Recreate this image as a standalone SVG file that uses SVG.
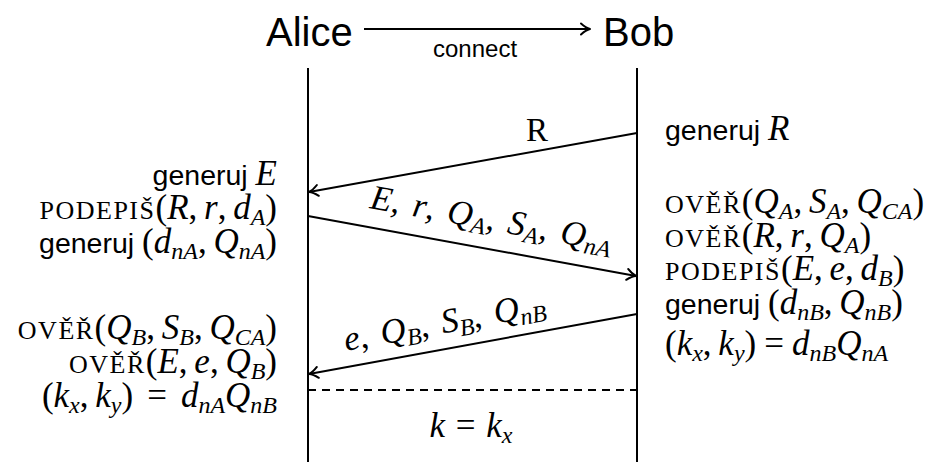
<svg xmlns="http://www.w3.org/2000/svg" width="933" height="462" viewBox="0 0 933 462">
<style>
text { font-family: "Liberation Serif", serif; font-size: 35px; fill: #000; word-spacing: -2px; }
.sf { font-family: "Liberation Sans", sans-serif; font-size: 28.5px; word-spacing: 0; }
.big { font-family: "Liberation Sans", sans-serif; font-size: 40px; word-spacing: 0; }
.con { font-family: "Liberation Sans", sans-serif; font-size: 24px; word-spacing: 0; }
.lbl { word-spacing: 4px; }
.i { font-style: italic; }
.s { font-style: italic; font-size: 24px; }
.sc { font-size: 26px; letter-spacing: 1.5px; }
.life { stroke: #000; stroke-width: 2; fill: none; }
.msg { stroke: #000; stroke-width: 2; fill: none; marker-end: url(#ah); }
.dash { stroke: #000; stroke-width: 2; fill: none; stroke-dasharray: 8 6; }
</style>
<defs>
<marker id="ah" viewBox="-11 -7 13 14" refX="0" refY="0" markerWidth="13" markerHeight="14" markerUnits="userSpaceOnUse" orient="auto">
<path d="M-9,-5.5 Q-4,-1 0,0 Q-4,1 -9,5.5" fill="none" stroke="#000" stroke-width="2" stroke-linecap="round" stroke-linejoin="round"/>
</marker>
</defs>
<rect width="933" height="462" fill="#fff"/>
<g id="alice">
<text class="big" x="266" y="46">Alice</text>
<line class="life" x1="308" y1="68" x2="308" y2="462"/>
</g>
<g id="bob">
<text class="big" x="603" y="46">Bob</text>
<line class="life" x1="637" y1="68" x2="637" y2="462"/>
</g>
<g id="alice-steps" text-anchor="end">
<text x="277" y="185"><tspan class="sf">generuj </tspan><tspan class="i">E</tspan></text>
<text x="277" y="219"><tspan class="sc">PODEPIŠ</tspan>(<tspan class="i">R</tspan>, <tspan class="i">r</tspan>, <tspan class="i">d</tspan><tspan class="s" dy="6">A</tspan><tspan dy="-6">)</tspan></text>
<text x="277" y="253"><tspan class="sf">generuj </tspan>(<tspan class="i">d</tspan><tspan class="s" dy="6">nA</tspan><tspan dy="-6">, </tspan><tspan class="i">Q</tspan><tspan class="s" dy="6">nA</tspan><tspan dy="-6">)</tspan></text>
<text x="277" y="339"><tspan class="sc">OVĚŘ</tspan>(<tspan class="i">Q</tspan><tspan class="s" dy="6">B</tspan><tspan dy="-6">, </tspan><tspan class="i">S</tspan><tspan class="s" dy="6">B</tspan><tspan dy="-6">, </tspan><tspan class="i">Q</tspan><tspan class="s" dy="6">CA</tspan><tspan dy="-6">)</tspan></text>
<text x="277" y="373"><tspan class="sc">OVĚŘ</tspan>(<tspan class="i">E</tspan>, <tspan class="i">e</tspan>, <tspan class="i">Q</tspan><tspan class="s" dy="6">B</tspan><tspan dy="-6">)</tspan></text>
<text x="277" y="407">(<tspan class="i">k</tspan><tspan class="s" dy="6">x</tspan><tspan dy="-6">, </tspan><tspan class="i">k</tspan><tspan class="s" dy="6">y</tspan><tspan dy="-6">)</tspan><tspan dx="14">=</tspan><tspan class="i" dx="14">d</tspan><tspan class="s" dy="6">nA</tspan><tspan class="i" dy="-6">Q</tspan><tspan class="s" dy="6">nB</tspan></text>
</g>
<g id="bob-steps">
<text x="665" y="140"><tspan class="sf">generuj </tspan><tspan class="i">R</tspan></text>
<text x="665" y="213"><tspan class="sc">OVĚŘ</tspan>(<tspan class="i">Q</tspan><tspan class="s" dy="6">A</tspan><tspan dy="-6">, </tspan><tspan class="i">S</tspan><tspan class="s" dy="6">A</tspan><tspan dy="-6">, </tspan><tspan class="i">Q</tspan><tspan class="s" dy="6">CA</tspan><tspan dy="-6">)</tspan></text>
<text x="665" y="247"><tspan class="sc">OVĚŘ</tspan>(<tspan class="i">R</tspan>, <tspan class="i">r</tspan>, <tspan class="i">Q</tspan><tspan class="s" dy="6">A</tspan><tspan dy="-6">)</tspan></text>
<text x="665" y="280"><tspan class="sc">PODEPIŠ</tspan>(<tspan class="i">E</tspan>, <tspan class="i">e</tspan>, <tspan class="i">d</tspan><tspan class="s" dy="6">B</tspan><tspan dy="-6">)</tspan></text>
<text x="665" y="314"><tspan class="sf">generuj </tspan>(<tspan class="i">d</tspan><tspan class="s" dy="6">nB</tspan><tspan dy="-6">, </tspan><tspan class="i">Q</tspan><tspan class="s" dy="6">nB</tspan><tspan dy="-6">)</tspan></text>
<text x="665" y="355">(<tspan class="i">k</tspan><tspan class="s" dy="6">x</tspan><tspan dy="-6">, </tspan><tspan class="i">k</tspan><tspan class="s" dy="6">y</tspan><tspan dy="-6">)</tspan><tspan dx="8">=</tspan><tspan class="i" dx="8">d</tspan><tspan class="s" dy="6">nB</tspan><tspan class="i" dy="-6">Q</tspan><tspan class="s" dy="6">nA</tspan></text>
</g>
<g id="key">
<line class="dash" x1="308" y1="390" x2="637" y2="390"/>
<text x="471" y="437" text-anchor="middle" style="word-spacing:2px"><tspan class="i">k</tspan> = <tspan class="i">k</tspan><tspan class="s" dy="6">x</tspan></text>
</g>
<g id="connectors">
<line class="msg" x1="364" y1="29" x2="590" y2="29"/>
<text class="con" x="433" y="57">connect</text>
<line class="msg" x1="637" y1="133" x2="309" y2="192"/>
<text x="526" y="141" style="font-size:33px">R</text>
<line class="msg" x1="308" y1="216" x2="636" y2="276"/>
<text class="lbl" transform="translate(369,208) rotate(10.3)"><tspan class="i">E</tspan>, <tspan class="i">r</tspan>, <tspan class="i">Q</tspan><tspan class="s" dy="6">A</tspan><tspan dy="-6">, </tspan><tspan class="i">S</tspan><tspan class="s" dy="6">A</tspan><tspan dy="-6">, </tspan><tspan class="i">Q</tspan><tspan class="s" dy="6">nA</tspan></text>
<line class="msg" x1="637" y1="314" x2="309" y2="374"/>
<text class="lbl" transform="translate(346,351) rotate(-10.3)"><tspan class="i">e</tspan>, <tspan class="i">Q</tspan><tspan class="s" dy="6">B</tspan><tspan dy="-6">, </tspan><tspan class="i">S</tspan><tspan class="s" dy="6">B</tspan><tspan dy="-6">, </tspan><tspan class="i">Q</tspan><tspan class="s" dy="6">nB</tspan></text>
</g>
</svg>
